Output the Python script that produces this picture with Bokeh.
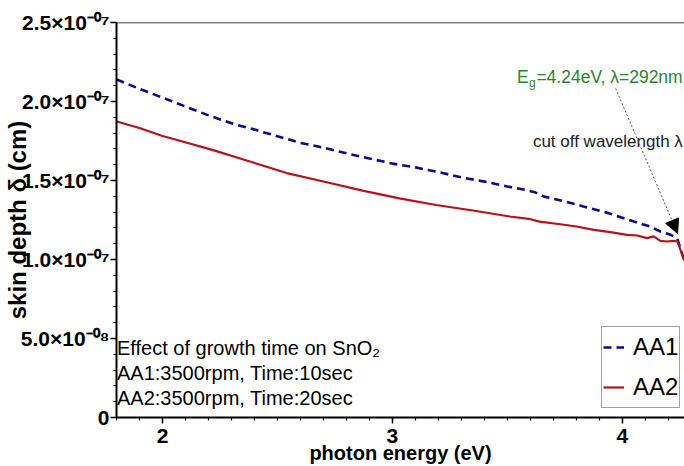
from bokeh.plotting import figure
from bokeh.models import (Range1d, FixedTicker, CustomJSTickFormatter, Label,
                          Arrow, NormalHead, Span)
from bokeh.embed import file_html
from bokeh.resources import INLINE
import numpy as np

# ---------------- data ----------------
energy_aa1 = [1.80, 1.90, 2.00, 2.10, 2.20, 2.30, 2.40, 2.50, 2.60, 2.70, 2.80, 2.90,
              3.00, 3.10, 3.20, 3.30, 3.40, 3.50, 3.58, 3.62, 3.66, 3.75, 3.83, 3.94,
              4.05, 4.12, 4.165, 4.21, 4.238, 4.252, 4.27, 4.28]
depth_aa1 = [2.14e-7, 2.08e-7, 2.025e-7, 1.968e-7, 1.912e-7, 1.862e-7, 1.822e-7, 1.780e-7,
             1.738e-7, 1.708e-7, 1.672e-7, 1.639e-7, 1.607e-7, 1.583e-7, 1.553e-7, 1.520e-7,
             1.493e-7, 1.462e-7, 1.440e-7, 1.425e-7, 1.398e-7, 1.368e-7, 1.336e-7, 1.293e-7,
             1.240e-7, 1.209e-7, 1.177e-7, 1.156e-7, 1.135e-7, 1.072e-7, 0.988e-7, 0.95e-7]

energy_aa2 = [1.80, 1.90, 2.00, 2.06, 2.22, 2.38, 2.54, 2.70, 2.87, 3.03, 3.19, 3.35,
              3.51, 3.60, 3.64, 3.73, 3.80, 3.876, 3.948, 4.02, 4.064, 4.107, 4.136,
              4.165, 4.194, 4.223, 4.240, 4.252, 4.269, 4.28]
depth_aa2 = [1.873e-7, 1.832e-7, 1.782e-7, 1.758e-7, 1.692e-7, 1.620e-7, 1.547e-7, 1.494e-7,
             1.436e-7, 1.387e-7, 1.345e-7, 1.310e-7, 1.272e-7, 1.255e-7, 1.240e-7, 1.223e-7,
             1.209e-7, 1.188e-7, 1.173e-7, 1.156e-7, 1.152e-7, 1.135e-7, 1.146e-7, 1.118e-7,
             1.114e-7, 1.118e-7, 1.114e-7, 1.062e-7, 0.999e-7, 0.96e-7]

x_ticks = [2, 3, 4]
y_ticks = [0, 5e-8, 1e-7, 1.5e-7, 2e-7, 2.5e-7]
y_tick_labels = ["0", "5.0×10⁻⁰⁸", "1.0×10⁻⁰⁷", "1.5×10⁻⁰⁷", "2.0×10⁻⁰⁷", "2.5×10⁻⁰⁷"]
series_names = ["AA1", "AA2"]

gap_energy = 4.24
note_lines = ["Effect of growth time on SnO₂",
              "AA1:3500rpm, Time:10sec",
              "AA2:3500rpm, Time:20sec"]

FONT = "Liberation Sans"
BLUE = "#0A0A8C"
RED = "#B5121B"
GREEN = "#2A862A"

# ---------------- figure ----------------
X0, X1 = 1.8, 4.27
Y0, Y1 = 0.0, 2.5e-7
p = figure(width=684, height=466, output_backend="svg", toolbar_location=None,
           x_range=Range1d(X0, X1), y_range=Range1d(Y0, Y1),
           min_border_left=115, min_border_right=0, min_border_top=22,
           min_border_bottom=49, background_fill_color="white",
           border_fill_color="white")
p.outline_line_color = None
p.grid.visible = False

# pixel helpers for annotation placement (frame ~ 114.5..684 x 22..417)
FL, FR, FT, FB = 114.5, 684.0, 22.0, 417.0
def ex(px):
    return X0 + (px - FL) / (FR - FL) * (X1 - X0)
def ey(py):
    return Y0 + (FB - py) / (FB - FT) * (Y1 - Y0)

# x axis
xa = p.xaxis[0]
xa.ticker = FixedTicker(ticks=x_ticks, minor_ticks=list(np.round(np.arange(1.8, 4.31, 0.1), 2)))
xa.axis_label = "photon energy (eV)"
xa.axis_label_text_font = FONT
xa.axis_label_text_font_style = "bold"
xa.axis_label_text_font_size = "20px"
xa.axis_label_text_color = "black"
xa.axis_label_standoff = -4
xa.major_label_text_font = FONT
xa.major_label_text_font_style = "bold"
xa.major_label_text_font_size = "21px"
xa.major_label_text_color = "black"
xa.major_label_standoff = 5
xa.axis_line_width = 2
xa.axis_line_color = "black"
xa.major_tick_out = 6
xa.major_tick_in = 0
xa.minor_tick_out = 3
xa.minor_tick_in = 0
xa.major_tick_line_width = 1.5
xa.minor_tick_line_width = 1.2
xa.major_tick_line_color = "black"
xa.minor_tick_line_color = "black"

# y axis
ya = p.yaxis[0]
ya.ticker = FixedTicker(ticks=y_ticks, minor_ticks=list(np.arange(0, 2.51e-7, 1e-8)))
ya.formatter = CustomJSTickFormatter(args=dict(yt=y_ticks, yl=y_tick_labels), code="""
    for (let i = 0; i < yt.length; i++) {
        if (Math.abs(tick - yt[i]) < 1e-12) { return yl[i]; }
    }
    return "";
""")
ya.axis_label = "skin depth δ (cm)"
ya.axis_label_text_font = FONT
ya.axis_label_text_font_style = "bold"
ya.axis_label_text_font_size = "24px"
ya.axis_label_text_color = "black"
ya.axis_label_standoff = -13
ya.major_label_text_font = FONT
ya.major_label_text_font_style = "bold"
ya.major_label_text_font_size = "21px"
ya.major_label_text_color = "black"
ya.major_label_standoff = 1
ya.axis_line_width = 2
ya.axis_line_color = "black"
ya.major_tick_out = 6
ya.major_tick_in = 0
ya.minor_tick_out = 3
ya.minor_tick_in = 0
ya.major_tick_line_width = 1.5
ya.minor_tick_line_width = 1.2
ya.major_tick_line_color = "black"
ya.minor_tick_line_color = "black"

# top frame line
p.add_layout(Span(location=Y1, dimension="width", line_color="black", line_width=1.5))

# ---------------- series ----------------
p.line(energy_aa1, depth_aa1, line_color=BLUE, line_width=2.6, line_dash="8 5",
       legend_label=series_names[0])
p.line(energy_aa2, depth_aa2, line_color=RED, line_width=2.2,
       legend_label=series_names[1])

# ---------------- legend ----------------
lg = p.legend[0]
lg.location = (485, 9)
lg.label_text_font = FONT
lg.label_text_font_size = "24px"
lg.label_text_color = "black"
lg.glyph_width = 21
lg.glyph_height = 20
lg.label_standoff = 9
lg.label_height = 38
lg.spacing = 2
lg.padding = 1
lg.margin = 0
lg.border_line_color = "#444444"
lg.border_line_width = 1
lg.background_fill_color = "white"
lg.background_fill_alpha = 1.0

# ---------------- annotations ----------------
# E_g label (green)
p.add_layout(Label(x=ex(516), y=ey(76), text="E", text_font=FONT, text_font_size="17.5px",
                   text_color=GREEN, text_baseline="middle"))
p.add_layout(Label(x=ex(528), y=ey(82), text="g", text_font=FONT, text_font_size="12px",
                   text_color=GREEN, text_baseline="middle"))
p.add_layout(Label(x=ex(535.5), y=ey(76), text="=4.24eV, λ=292nm", text_font=FONT,
                   text_font_size="17.5px", text_color=GREEN, text_baseline="middle"))

p.add_layout(Label(x=ex(532), y=ey(141), text="cut off wavelength λ", text_font=FONT,
                   text_font_size="17px", text_color="#222222", text_baseline="middle"))

p.add_layout(Arrow(x_start=ex(615), y_start=ey(88), x_end=gap_energy, y_end=ey(233),
                   line_color="#555555", line_width=1, line_dash="2 2",
                   end=NormalHead(size=14, fill_color="black", line_color="black")))

for i, txt in enumerate(note_lines):
    p.add_layout(Label(x=ex(115), y=ey(347 + 25 * i), text=txt, text_font=FONT,
                       text_font_size="20px", text_color="black",
                       text_baseline="middle"))

open("out.html", "w").write(file_html(p, INLINE))
